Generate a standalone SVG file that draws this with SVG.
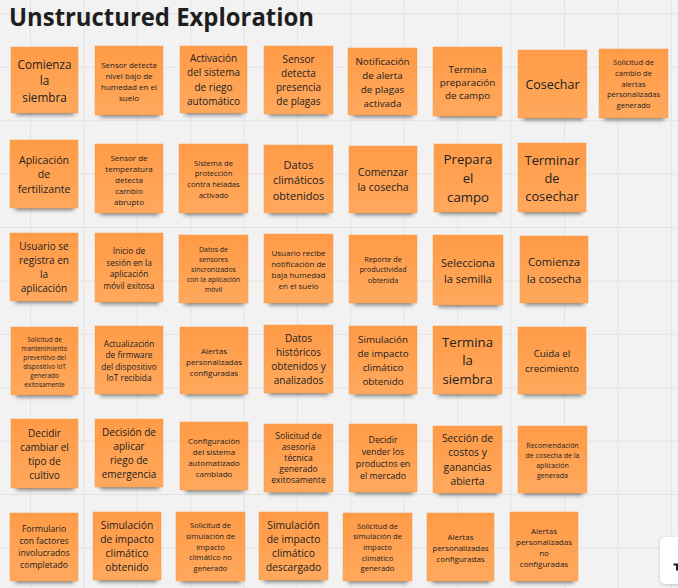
<svg xmlns="http://www.w3.org/2000/svg" width="678" height="588" viewBox="0 0 678 588">
<defs>
<pattern id="grid" x="30" y="13.4" width="53.4" height="53.4" patternUnits="userSpaceOnUse">
<path d="M0 0.5H53.4M0.5 0V53.4" fill="none" stroke="#e3e3e3" stroke-width="1"/>
</pattern>
<linearGradient id="ng" x1="0" y1="0" x2="0" y2="1">
<stop offset="0" stop-color="#ff9b47"/>
<stop offset="1" stop-color="#ffa85c"/>
</linearGradient>
<filter id="blur" x="-30%" y="-100%" width="160%" height="300%">
<feGaussianBlur stdDeviation="2.2"/>
</filter>
<filter id="wsh" x="-50%" y="-50%" width="200%" height="200%">
<feDropShadow dx="0" dy="1" stdDeviation="1.5" flood-color="#000" flood-opacity="0.2"/>
</filter>
</defs>
<style>
.sh{fill:#000;opacity:.5;filter:url(#blur)}
.n{fill:url(#ng);stroke:#f79a4c;stroke-width:.5}
.t{font-family:"Open Sans","Noto Sans","Liberation Sans",sans-serif;fill:#222222;text-anchor:middle;dominant-baseline:central}
.s6{font-size:6.4px}.s7{font-size:7px}.s72{font-size:7.3px}.s76{font-size:7.6px}.s8{font-size:8px}.s82{font-size:8.3px}.s85{font-size:8.6px}.s88{font-size:8.8px}
.s98{font-size:9.8px}.s10{font-size:10px}.s103{font-size:10.3px}.s105{font-size:10.6px}.s11{font-size:11px}.s112{font-size:11.3px}.s116{font-size:11.7px}.s125{font-size:12.5px}.s127{font-size:12.8px}.s13{font-size:13.2px}
</style>
<rect width="678" height="588" fill="#f2f2f2"/>
<rect width="678" height="588" fill="url(#grid)"/>
<text x="9" y="26" font-family="'Open Sans','Noto Sans','Liberation Sans',sans-serif" font-weight="700" font-size="24.5" fill="#1e1e1e" textLength="305" lengthAdjust="spacingAndGlyphs">Unstructured Exploration</text>
<g id="connectors"/>

<!-- Row 1 -->
<g id="n1-1"><rect class="sh" x="16" y="107" width="58" height="8"/><rect class="n" x="11" y="47" width="67" height="66"/><text class="t s116"><tspan x="44.5" y="63.5">Comienza</tspan><tspan x="44.5" dy="16.5">la</tspan><tspan x="44.5" dy="16.5">siembra</tspan></text></g>
<g id="n1-2"><rect class="sh" x="100" y="109" width="59" height="8"/><rect class="n" x="95" y="46" width="68" height="69"/><text class="t s8"><tspan x="129" y="63.5">Sensor detecta</tspan><tspan x="129" dy="11.3">nivel bajo de</tspan><tspan x="129" dy="11.3">humedad en el</tspan><tspan x="129" dy="11.3">suelo</tspan></text></g>
<g id="n1-3"><rect class="sh" x="185" y="107" width="58" height="8"/><rect class="n" x="180" y="46" width="67" height="67"/><text class="t s10"><tspan x="213.5" y="58">Activación</tspan><tspan x="213.5" dy="14.3">del sistema</tspan><tspan x="213.5" dy="14.3">de riego</tspan><tspan x="213.5" dy="14.3">automático</tspan></text></g>
<g id="n1-4"><rect class="sh" x="269" y="108" width="60" height="8"/><rect class="n" x="264" y="46" width="69" height="68"/><text class="t s10"><tspan x="298.5" y="58.5">Sensor</tspan><tspan x="298.5" dy="14.3">detecta</tspan><tspan x="298.5" dy="14.3">presencia</tspan><tspan x="298.5" dy="14.3">de plagas</tspan></text></g>
<g id="n1-5"><rect class="sh" x="353" y="109" width="60" height="8"/><rect class="n" x="348" y="48" width="69" height="67"/><text class="t s98"><tspan x="382.5" y="60.5">Notificación</tspan><tspan x="382.5" dy="14">de alerta</tspan><tspan x="382.5" dy="14">de plagas</tspan><tspan x="382.5" dy="14">activada</tspan></text></g>
<g id="n1-6"><rect class="sh" x="438" y="110" width="60" height="8"/><rect class="n" x="433" y="47" width="69" height="69"/><text class="t s98"><tspan x="467.5" y="68.5">Termina</tspan><tspan x="467.5" dy="13">preparación</tspan><tspan x="467.5" dy="13">de campo</tspan></text></g>
<g id="n1-7"><rect class="sh" x="523" y="112" width="60" height="8"/><rect class="n" x="518" y="50" width="69" height="68"/><text class="t s125"><tspan x="552.5" y="84">Cosechar</tspan></text></g>
<g id="n1-8"><rect class="sh" x="604" y="112" width="60" height="8"/><rect class="n" x="599" y="49" width="69" height="69"/><text class="t s76"><tspan x="633.5" y="62.1">Solicitud de</tspan><tspan x="633.5" dy="10.7">cambio de</tspan><tspan x="633.5" dy="10.7">alertas</tspan><tspan x="633.5" dy="10.7">personalizadas</tspan><tspan x="633.5" dy="10.7">generado</tspan></text></g>

<!-- Row 2 -->
<g id="n2-1"><rect class="sh" x="15" y="202" width="59" height="8"/><rect class="n" x="10" y="140" width="68" height="68"/><text class="t s105"><tspan x="44" y="159.5">Aplicación</tspan><tspan x="44" dy="14.5">de</tspan><tspan x="44" dy="14.5">fertilizante</tspan></text></g>
<g id="n2-2"><rect class="sh" x="100" y="207" width="59" height="8"/><rect class="n" x="95" y="144" width="68" height="69"/><text class="t s8"><tspan x="129" y="156.5">Sensor de</tspan><tspan x="129" dy="11">temperatura</tspan><tspan x="129" dy="11">detecta</tspan><tspan x="129" dy="11">cambio</tspan><tspan x="129" dy="11">abrupto</tspan></text></g>
<g id="n2-3"><rect class="sh" x="184" y="207" width="60" height="8"/><rect class="n" x="179" y="144" width="69" height="69"/><text class="t s76"><tspan x="213.5" y="162.5">Sistema de</tspan><tspan x="213.5" dy="10.7">protección</tspan><tspan x="213.5" dy="10.7">contra heladas</tspan><tspan x="213.5" dy="10.7">activado</tspan></text></g>
<g id="n2-4"><rect class="sh" x="269" y="207" width="60" height="8"/><rect class="n" x="264" y="145" width="69" height="68"/><text class="t s11"><tspan x="298.5" y="163.5">Datos</tspan><tspan x="298.5" dy="15.5">climáticos</tspan><tspan x="298.5" dy="15.5">obtenidos</tspan></text></g>
<g id="n2-5"><rect class="sh" x="354" y="207" width="59" height="8"/><rect class="n" x="349" y="146" width="68" height="67"/><text class="t s105"><tspan x="383" y="172">Comenzar</tspan><tspan x="383" dy="15">la cosecha</tspan></text></g>
<g id="n2-6"><rect class="sh" x="439" y="206" width="59" height="8"/><rect class="n" x="434" y="144" width="68" height="68"/><text class="t s13"><tspan x="468" y="159">Prepara</tspan><tspan x="468" dy="19">el</tspan><tspan x="468" dy="19">campo</tspan></text></g>
<g id="n2-7"><rect class="sh" x="523" y="206" width="59" height="8"/><rect class="n" x="518" y="143" width="68" height="69"/><text class="t s127"><tspan x="552" y="159.5">Terminar</tspan><tspan x="552" dy="18">de</tspan><tspan x="552" dy="18">cosechar</tspan></text></g>

<!-- Row 3 -->
<g id="n3-1"><rect class="sh" x="15" y="295" width="59" height="8"/><rect class="n" x="10" y="233" width="68" height="68"/><text class="t s10"><tspan x="44" y="246">Usuario se</tspan><tspan x="44" dy="14">registra en</tspan><tspan x="44" dy="14">la</tspan><tspan x="44" dy="14">aplicación</tspan></text></g>
<g id="n3-2"><rect class="sh" x="100" y="296" width="59" height="8"/><rect class="n" x="95" y="233" width="68" height="69"/><text class="t s82"><tspan x="129" y="250">Inicio de</tspan><tspan x="129" dy="11.7">sesión en la</tspan><tspan x="129" dy="11.7">aplicación</tspan><tspan x="129" dy="11.7">móvil exitosa</tspan></text></g>
<g id="n3-3"><rect class="sh" x="184" y="297" width="60" height="8"/><rect class="n" x="179" y="235" width="69" height="68"/><text class="t s7"><tspan x="213.5" y="249">Datos de</tspan><tspan x="213.5" dy="10">sensores</tspan><tspan x="213.5" dy="10">sincronizados</tspan><tspan x="213.5" dy="10">con la aplicación</tspan><tspan x="213.5" dy="10">móvil</tspan></text></g>
<g id="n3-4"><rect class="sh" x="269" y="297" width="60" height="8"/><rect class="n" x="264" y="234" width="69" height="69"/><text class="t s8"><tspan x="298.5" y="251.5">Usuario recibe</tspan><tspan x="298.5" dy="11.3">notificación de</tspan><tspan x="298.5" dy="11.3">baja humedad</tspan><tspan x="298.5" dy="11.3">en el suelo</tspan></text></g>
<g id="n3-5"><rect class="sh" x="354" y="297" width="59" height="8"/><rect class="n" x="349" y="235" width="68" height="68"/><text class="t s72"><tspan x="383" y="258.5">Reporte de</tspan><tspan x="383" dy="10.5">productividad</tspan><tspan x="383" dy="10.5">obtenida</tspan></text></g>
<g id="n3-6"><rect class="sh" x="438" y="299" width="61" height="8"/><rect class="n" x="433" y="235" width="70" height="70"/><text class="t s11"><tspan x="468" y="262">Selecciona</tspan><tspan x="468" dy="16">la semilla</tspan></text></g>
<g id="n3-7"><rect class="sh" x="525" y="297" width="59" height="8"/><rect class="n" x="520" y="236" width="68" height="67"/><text class="t s112"><tspan x="554" y="261.3">Comienza</tspan><tspan x="554" dy="16.5">la cosecha</tspan></text></g>

<!-- Row 4 -->
<g id="n4-1"><rect class="sh" x="16" y="389" width="58" height="8"/><rect class="n" x="11" y="327" width="67" height="68"/><text class="t s6"><tspan x="44.5" y="338.5">Solicitud de</tspan><tspan x="44.5" dy="9">mantenimiento</tspan><tspan x="44.5" dy="9">preventivo del</tspan><tspan x="44.5" dy="9">dispositivo IoT</tspan><tspan x="44.5" dy="9">generado</tspan><tspan x="44.5" dy="9">exitosamente</tspan></text></g>
<g id="n4-2"><rect class="sh" x="100" y="388" width="59" height="8"/><rect class="n" x="95" y="326" width="68" height="68"/><text class="t s82"><tspan x="129" y="343">Actualización</tspan><tspan x="129" dy="11.3">de firmware</tspan><tspan x="129" dy="11.3">del dispositivo</tspan><tspan x="129" dy="11.3">IoT recibida</tspan></text></g>
<g id="n4-3"><rect class="sh" x="185" y="388" width="59" height="8"/><rect class="n" x="180" y="327" width="68" height="67"/><text class="t s8"><tspan x="214" y="349.5">Alertas</tspan><tspan x="214" dy="11">personalizadas</tspan><tspan x="214" dy="11">configuradas</tspan></text></g>
<g id="n4-4"><rect class="sh" x="269" y="387" width="60" height="8"/><rect class="n" x="264" y="325" width="69" height="68"/><text class="t s10"><tspan x="298.5" y="337.5">Datos</tspan><tspan x="298.5" dy="14.3">históricos</tspan><tspan x="298.5" dy="14.3">obtenidos y</tspan><tspan x="298.5" dy="14.3">analizados</tspan></text></g>
<g id="n4-5"><rect class="sh" x="354" y="388" width="59" height="8"/><rect class="n" x="349" y="326" width="68" height="68"/><text class="t s98"><tspan x="383" y="339">Simulación</tspan><tspan x="383" dy="14">de impacto</tspan><tspan x="383" dy="14">climático</tspan><tspan x="383" dy="14">obtenido</tspan></text></g>
<g id="n4-6"><rect class="sh" x="438" y="388" width="60" height="8"/><rect class="n" x="433" y="326" width="69" height="68"/><text class="t s13"><tspan x="467.5" y="341.5">Termina</tspan><tspan x="467.5" dy="18.5">la</tspan><tspan x="467.5" dy="18.5">siembra</tspan></text></g>
<g id="n4-7"><rect class="sh" x="523" y="388" width="59" height="8"/><rect class="n" x="518" y="327" width="68" height="67"/><text class="t s98"><tspan x="552" y="353.3">Cuida el</tspan><tspan x="552" dy="14.5">crecimiento</tspan></text></g>

<!-- Row 5 -->
<g id="n5-1"><rect class="sh" x="16" y="482" width="58" height="8"/><rect class="n" x="11" y="419" width="67" height="69"/><text class="t s10"><tspan x="44.5" y="432.5">Decidir</tspan><tspan x="44.5" dy="14">cambiar el</tspan><tspan x="44.5" dy="14">tipo de</tspan><tspan x="44.5" dy="14">cultivo</tspan></text></g>
<g id="n5-2"><rect class="sh" x="100" y="481" width="59" height="8"/><rect class="n" x="95" y="419" width="68" height="68"/><text class="t s10"><tspan x="129" y="432">Decisión de</tspan><tspan x="129" dy="14">aplicar</tspan><tspan x="129" dy="14">riego de</tspan><tspan x="129" dy="14">emergencia</tspan></text></g>
<g id="n5-3"><rect class="sh" x="185" y="484" width="59" height="8"/><rect class="n" x="180" y="422" width="68" height="68"/><text class="t s8"><tspan x="214" y="439.5">Configuración</tspan><tspan x="214" dy="11">del sistema</tspan><tspan x="214" dy="11">automatizado</tspan><tspan x="214" dy="11">cambiado</tspan></text></g>
<g id="n5-4"><rect class="sh" x="269" y="486" width="60" height="8"/><rect class="n" x="264" y="424" width="69" height="68"/><text class="t s85"><tspan x="298.5" y="436">Solicitud de</tspan><tspan x="298.5" dy="11">asesoría</tspan><tspan x="298.5" dy="11">técnica</tspan><tspan x="298.5" dy="11">generado</tspan><tspan x="298.5" dy="11">exitosamente</tspan></text></g>
<g id="n5-5"><rect class="sh" x="354" y="486" width="59" height="8"/><rect class="n" x="349" y="424" width="68" height="68"/><text class="t s88"><tspan x="383" y="440">Decidir</tspan><tspan x="383" dy="12">vender los</tspan><tspan x="383" dy="12">productos en</tspan><tspan x="383" dy="12">el mercado</tspan></text></g>
<g id="n5-6"><rect class="sh" x="438" y="487" width="60" height="8"/><rect class="n" x="433" y="426" width="69" height="67"/><text class="t s103"><tspan x="467.5" y="438">Sección de</tspan><tspan x="467.5" dy="14.3">costos y</tspan><tspan x="467.5" dy="14.3">ganancias</tspan><tspan x="467.5" dy="14.3">abierta</tspan></text></g>
<g id="n5-7"><rect class="sh" x="523" y="487" width="60" height="8"/><rect class="n" x="518" y="426" width="69" height="67"/><text class="t s7"><tspan x="552.5" y="444.5">Recomendación</tspan><tspan x="552.5" dy="10">de cosecha de la</tspan><tspan x="552.5" dy="10">aplicación</tspan><tspan x="552.5" dy="10">generada</tspan></text></g>

<!-- Row 6 -->
<g id="n6-1"><rect class="sh" x="15" y="575" width="59" height="8"/><rect class="n" x="10" y="513" width="68" height="68"/><text class="t s85"><tspan x="44" y="529">Formulario</tspan><tspan x="44" dy="12">con factores</tspan><tspan x="44" dy="12">involucrados</tspan><tspan x="44" dy="12">completado</tspan></text></g>
<g id="n6-2"><rect class="sh" x="98" y="574" width="59" height="8"/><rect class="n" x="93" y="512" width="68" height="68"/><text class="t s103"><tspan x="127" y="524.5">Simulación</tspan><tspan x="127" dy="14.3">de impacto</tspan><tspan x="127" dy="14.3">climático</tspan><tspan x="127" dy="14.3">obtenido</tspan></text></g>
<g id="n6-3"><rect class="sh" x="181" y="575" width="60" height="8"/><rect class="n" x="176" y="512" width="69" height="69"/><text class="t s76"><tspan x="210.5" y="525.1">Solicitud de</tspan><tspan x="210.5" dy="10.7">simulación de</tspan><tspan x="210.5" dy="10.7">impacto</tspan><tspan x="210.5" dy="10.7">climático no</tspan><tspan x="210.5" dy="10.7">generado</tspan></text></g>
<g id="n6-4"><rect class="sh" x="264" y="574" width="60" height="8"/><rect class="n" x="259" y="512" width="69" height="68"/><text class="t s103"><tspan x="293.5" y="524.5">Simulación</tspan><tspan x="293.5" dy="14.3">de impacto</tspan><tspan x="293.5" dy="14.3">climático</tspan><tspan x="293.5" dy="14.3">descargado</tspan></text></g>
<g id="n6-5"><rect class="sh" x="348" y="575" width="60" height="8"/><rect class="n" x="343" y="513" width="69" height="68"/><text class="t s76"><tspan x="377.5" y="525.6">Solicitud de</tspan><tspan x="377.5" dy="10.7">simulación de</tspan><tspan x="377.5" dy="10.7">impacto</tspan><tspan x="377.5" dy="10.7">climático</tspan><tspan x="377.5" dy="10.7">generado</tspan></text></g>
<g id="n6-6"><rect class="sh" x="432" y="575" width="58" height="8"/><rect class="n" x="427" y="513" width="67" height="68"/><text class="t s8"><tspan x="460.5" y="536">Alertas</tspan><tspan x="460.5" dy="11">personalizadas</tspan><tspan x="460.5" dy="11">configuradas</tspan></text></g>
<g id="n6-7"><rect class="sh" x="515" y="575" width="59" height="8"/><rect class="n" x="510" y="512" width="68" height="69"/><text class="t s8"><tspan x="544" y="530">Alertas</tspan><tspan x="544" dy="11">personalizadas</tspan><tspan x="544" dy="11">no</tspan><tspan x="544" dy="11">configuradas</tspan></text></g>

<g id="widget">
<rect x="660" y="537" width="30" height="47" rx="6" fill="#ffffff" filter="url(#wsh)"/>
<path d="M673.5 563.5h4.5v7h-2v-5h-2.5z" fill="#1e1e1e"/>
</g>
</svg>
